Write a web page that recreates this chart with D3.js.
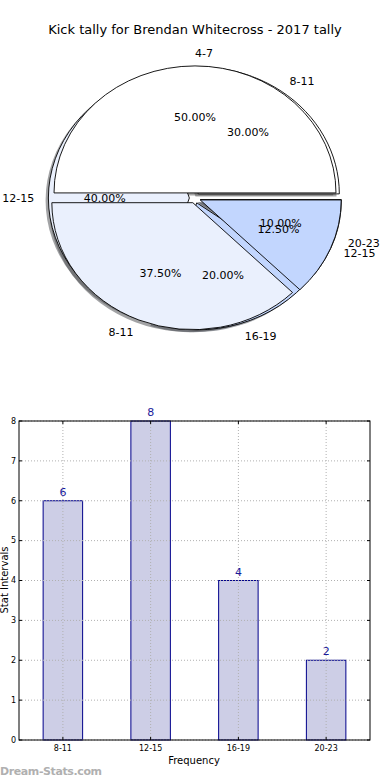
<!DOCTYPE html>
<html>
<head>
<meta charset="utf-8">
<script src="https://cdn.jsdelivr.net/npm/d3@7"></script>
<style>
  body { margin: 0; background: #fff; }
  text { font-family: "DejaVu Sans", sans-serif; }
</style>
</head>
<body>
<div id="chart"></div>
<script>
// pie A = bar chart data, pie B = second tally drawn on top
var pieA_labels = ["8-11", "12-15", "16-19", "20-23"];
var pieA_values = [6, 8, 4, 2];
var pieB_labels = ["4-7", "8-11", "12-15"];
var pieB_values = [4, 3, 1];
var pie_colors = ["#ffffff", "#eaf0fd", "#c2d6fe"];

var bar_labels = ["8-11", "12-15", "16-19", "20-23"];
var bar_values = [6, 8, 4, 2];
var y_ticks = [0, 1, 2, 3, 4, 5, 6, 7, 8];

var W = 390, H = 780;
var svg = d3.select("#chart").append("svg")
      .attr("width", W).attr("height", H);

svg.append("text")
      .attr("x", 195).attr("y", 34)
      .attr("text-anchor", "middle")
      .attr("font-size", "13px")
      .text("Kick tally for Brendan Whitecross - 2017 tally");

// ---- pie ----
var cx = 195, cy = 198, rx = 141, ry = 127;
var explode = 0.04;

var pie = d3.pie().sort(null)
      .startAngle(Math.PI / 2)
      .endAngle(Math.PI / 2 - 2 * Math.PI);
var arc = d3.arc().innerRadius(0).outerRadius(1);

function midTheta(d) {
      // matplotlib style angle (ccw from 3 o'clock)
      return Math.PI / 2 - (d.startAngle + d.endAngle) / 2;
}

function buildPie(values, labels) {
      var total = d3.sum(values);
      return pie(values).map(function (d, i) {
            var t = midTheta(d);
            return {
                  arc: d, label: labels[i], color: pie_colors[i % pie_colors.length],
                  pct: (100 * values[i] / total).toFixed(2) + "%",
                  t: t,
                  ox: cx + explode * rx * Math.cos(t),
                  oy: cy - explode * ry * Math.sin(t)
            };
      });
}

var slicesA = buildPie(pieA_values, pieA_labels);
var slicesB = buildPie(pieB_values, pieB_labels);
var all = slicesA.concat(slicesB);

var pg = svg.append("g");

// shadows first (under every wedge)
all.forEach(function (s) {
      var c = d3.rgb(s.color);
      pg.append("path")
            .attr("d", arc(s.arc))
            .attr("transform", "translate(" + (s.ox - 2.8) + "," + (s.oy + 2.5) + ") scale(" + rx + "," + ry + ")")
            .attr("fill", d3.rgb(c.r * 0.3, c.g * 0.3, c.b * 0.3))
            .attr("fill-opacity", 0.5)
            .attr("stroke", "none");
});

all.forEach(function (s) {
      pg.append("path")
            .attr("d", arc(s.arc))
            .attr("transform", "translate(" + s.ox + "," + s.oy + ") scale(" + rx + "," + ry + ")")
            .attr("fill", s.color)
            .attr("stroke", "#000")
            .attr("stroke-width", 0.9)
            .attr("vector-effect", "non-scaling-stroke");
});

all.forEach(function (s) {
      var lx = s.ox + 1.1 * rx * Math.cos(s.t),
          ly = s.oy - 1.1 * ry * Math.sin(s.t);
      pg.append("text")
            .attr("x", lx).attr("y", ly)
            .attr("dy", "0.35em")
            .attr("font-size", "11px")
            .attr("text-anchor", Math.cos(s.t) > 0 ? "start" : "end")
            .text(s.label);
      var px = s.ox + 0.6 * rx * Math.cos(s.t),
          py = s.oy - 0.6 * ry * Math.sin(s.t);
      pg.append("text")
            .attr("x", px).attr("y", py)
            .attr("dy", "0.35em")
            .attr("font-size", "11px")
            .attr("text-anchor", "middle")
            .text(s.pct);
});

// ---- bar chart ----
var bx0 = 19, bx1 = 370, by0 = 421, by1 = 740;
var x = d3.scaleLinear().domain([-0.5, 3.5]).range([bx0, bx1]);
var y = d3.scaleLinear().domain([0, 8]).range([by1, by0]);
var bw = 0.45;

var bg = svg.append("g");

bg.selectAll("rect.bar")
      .data(bar_values)
      .enter().append("rect")
      .attr("class", "bar")
      .attr("x", function (d, i) { return x(i - bw / 2); })
      .attr("y", function (d) { return y(d); })
      .attr("width", function () { return x(bw) - x(0); })
      .attr("height", function (d) { return y(0) - y(d); })
      .attr("fill", "#cdcee6")
      .attr("stroke", "#00008b")
      .attr("stroke-width", 1);

// grid over the bars
bg.selectAll("line.hgrid")
      .data(y_ticks)
      .enter().append("line")
      .attr("x1", bx0).attr("x2", bx1)
      .attr("y1", function (d) { return y(d); })
      .attr("y2", function (d) { return y(d); })
      .attr("stroke", "#b0b0b0")
      .attr("stroke-dasharray", "1,2");
bg.selectAll("line.vgrid")
      .data(bar_labels)
      .enter().append("line")
      .attr("x1", function (d, i) { return x(i); })
      .attr("x2", function (d, i) { return x(i); })
      .attr("y1", by0).attr("y2", by1)
      .attr("stroke", "#b0b0b0")
      .attr("stroke-dasharray", "1,2");

bg.append("rect")
      .attr("x", bx0).attr("y", by0)
      .attr("width", bx1 - bx0).attr("height", by1 - by0)
      .attr("fill", "none").attr("stroke", "#000").attr("stroke-width", 1);

// ticks inside on all four sides
y_ticks.forEach(function (t) {
      bg.append("line").attr("x1", bx0).attr("x2", bx0 + 3)
            .attr("y1", y(t)).attr("y2", y(t)).attr("stroke", "#000");
      bg.append("line").attr("x1", bx1).attr("x2", bx1 - 3)
            .attr("y1", y(t)).attr("y2", y(t)).attr("stroke", "#000");
      bg.append("text")
            .attr("x", bx0 - 3).attr("y", y(t))
            .attr("dy", "0.35em")
            .attr("text-anchor", "end")
            .attr("font-size", "8px")
            .text(t);
});
bar_labels.forEach(function (l, i) {
      bg.append("line").attr("x1", x(i)).attr("x2", x(i))
            .attr("y1", by1).attr("y2", by1 - 3).attr("stroke", "#000");
      bg.append("line").attr("x1", x(i)).attr("x2", x(i))
            .attr("y1", by0).attr("y2", by0 + 3).attr("stroke", "#000");
      bg.append("text")
            .attr("x", x(i)).attr("y", by1 + 11)
            .attr("text-anchor", "middle")
            .attr("font-size", "8px")
            .text(l);
});

bg.selectAll("text.val")
      .data(bar_values)
      .enter().append("text")
      .attr("class", "val")
      .attr("x", function (d, i) { return x(i); })
      .attr("y", function (d) { return y(d) - 5; })
      .attr("text-anchor", "middle")
      .attr("font-size", "11px")
      .attr("fill", "#1a1a9a")
      .text(function (d) { return d; });

svg.append("text")
      .attr("x", 194).attr("y", 764)
      .attr("text-anchor", "middle")
      .attr("font-size", "10px")
      .text("Frequency");

svg.append("text")
      .attr("transform", "translate(8,580) rotate(-90)")
      .attr("text-anchor", "middle")
      .attr("font-size", "10px")
      .text("Stat Intervals");

svg.append("text")
      .attr("x", 0).attr("y", 775)
      .attr("font-size", "11px")
      .attr("font-weight", "bold")
      .attr("fill", "#b0b0b0")
      .attr("textLength", 102)
      .text("Dream-Stats.com");
</script>
</body>
</html>
